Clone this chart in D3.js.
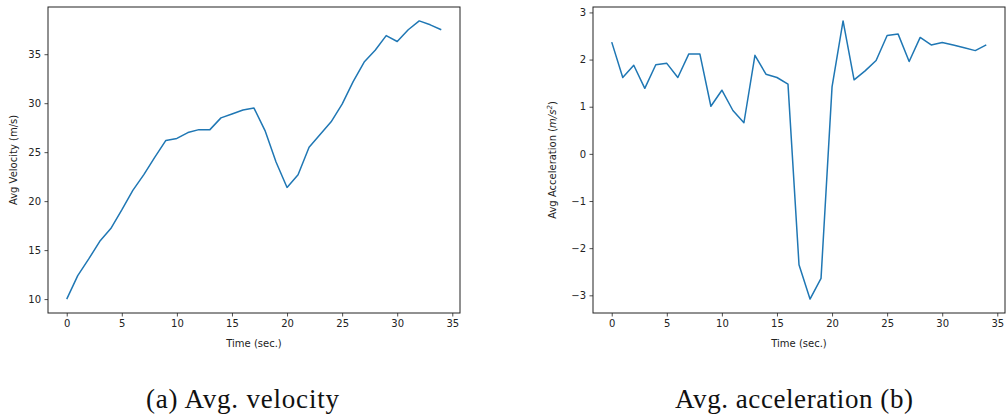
<!DOCTYPE html>
<meta charset="utf-8">
<script src="https://d3js.org/d3.v7.min.js"></script>
<style>
  body { margin: 0; background: #fff; }
</style>
<div id="my_dataviz"></div>
<script>
// time steps (sec.)
const time = d3.range(0, 35);

// average velocity (m/s)
const velocity = [10.0, 12.4, 14.1, 15.9, 17.2, 19.1, 21.1, 22.7, 24.5, 26.2,
  26.4, 27.0, 27.3, 27.3, 28.5, 28.9, 29.3, 29.5, 27.2, 24.0,
  21.4, 22.7, 25.5, 26.8, 28.1, 29.9, 32.2, 34.2, 35.4, 36.9,
  36.3, 37.5, 38.4, 38.0, 37.5];

// average acceleration (m/s^2)
const acceleration = [2.37, 1.62, 1.88, 1.39, 1.89, 1.92, 1.62, 2.12, 2.12, 1.01,
  1.35, 0.92, 0.66, 2.09, 1.69, 1.62, 1.48, -2.35, -3.08, -2.64,
  1.42, 2.82, 1.57, 1.76, 1.98, 2.51, 2.54, 1.96, 2.47, 2.31,
  2.36, 2.31, 2.25, 2.19, 2.31];

const xTicks = [0, 5, 10, 15, 20, 25, 30, 35];
const velTicks = [10, 15, 20, 25, 30, 35];
const accTicks = [-3, -2, -1, 0, 1, 2, 3];

const W = 1006, H = 419;
const svg = d3.select("#my_dataviz").append("svg")
  .attr("width", W).attr("height", H)
  .style("font-family", "'DejaVu Sans', sans-serif");

// matplotlib-like 5% margins
function padded(ext) {
  const m = (ext[1] - ext[0]) * 0.05;
  return [ext[0] - m, ext[1] + m];
}

const fmt = d3.format("d");

function panel(opts) {
  const x = d3.scaleLinear().domain(padded(d3.extent(time))).range([opts.left, opts.right]);
  const y = d3.scaleLinear().domain(padded(d3.extent(opts.values))).range([opts.bottom, opts.top]);
  const g = svg.append("g");

  g.append("g")
    .attr("transform", "translate(0," + opts.bottom + ")")
    .call(d3.axisBottom(x).tickValues(xTicks).tickFormat(fmt).tickSize(3.5).tickPadding(3.5).tickSizeOuter(0))
    .call(a => a.select(".domain").remove())
    .selectAll("text").attr("font-size", 10).attr("font-family", "DejaVu Sans").attr("fill", "#222");

  g.append("g")
    .attr("transform", "translate(" + opts.left + ",0)")
    .call(d3.axisLeft(y).tickValues(opts.ticks).tickFormat(fmt).tickSize(3.5).tickPadding(3.5).tickSizeOuter(0))
    .call(a => a.select(".domain").remove())
    .selectAll("text").attr("font-size", 10).attr("font-family", "DejaVu Sans").attr("fill", "#222");

  g.selectAll(".tick line").attr("stroke", "#222").attr("stroke-width", 0.8);

  // frame
  g.append("rect")
    .attr("x", opts.left).attr("y", opts.top)
    .attr("width", opts.right - opts.left).attr("height", opts.bottom - opts.top)
    .attr("fill", "none").attr("stroke", "#222").attr("stroke-width", 1);

  g.append("path")
    .datum(opts.values)
    .attr("fill", "none")
    .attr("stroke", "#1f77b4")
    .attr("stroke-width", 1.5)
    .attr("stroke-linejoin", "round")
    .attr("d", d3.line().x((d, i) => x(time[i])).y(d => y(d)));

  // x label
  g.append("text")
    .attr("x", (opts.left + opts.right) / 2)
    .attr("y", 347)
    .attr("text-anchor", "middle")
    .attr("font-size", 10)
    .attr("fill", "#222")
    .text("Time (sec.)");

  // y label
  const yl = g.append("text")
    .attr("transform", "translate(" + opts.ylabelX + "," + ((opts.top + opts.bottom) / 2) + ") rotate(-90)")
    .attr("text-anchor", "middle")
    .attr("font-size", 10)
    .attr("fill", "#222");
  opts.ylabel(yl);

  // caption
  svg.append("text")
    .attr("x", opts.captionX)
    .attr("y", 408)
    .style("font-family", "'Liberation Serif', 'DejaVu Serif', serif")
    .attr("font-size", 27)
    .attr("textLength", opts.captionW)
    .attr("lengthAdjust", "spacing")
    .attr("fill", "#111")
    .text(opts.caption);
}

panel({
  left: 48, right: 460, top: 7, bottom: 313,
  values: velocity, ticks: velTicks, ylabelX: 17,
  ylabel: t => t.text("Avg Velocity (m/s)"),
  caption: "(a) Avg. velocity", captionX: 146, captionW: 193
});

panel({
  left: 593, right: 1005, top: 7, bottom: 313,
  values: acceleration, ticks: accTicks, ylabelX: 556,
  ylabel: t => {
    t.append("tspan").text("Avg Acceleration (");
    t.append("tspan").attr("font-style", "italic").text("m/s");
    t.append("tspan").attr("font-size", 7).attr("dy", -4).attr("font-style", "italic").text("2");
    t.append("tspan").attr("dy", 4).text(")");
  },
  caption: "Avg. acceleration (b)", captionX: 675, captionW: 238
});
</script>
